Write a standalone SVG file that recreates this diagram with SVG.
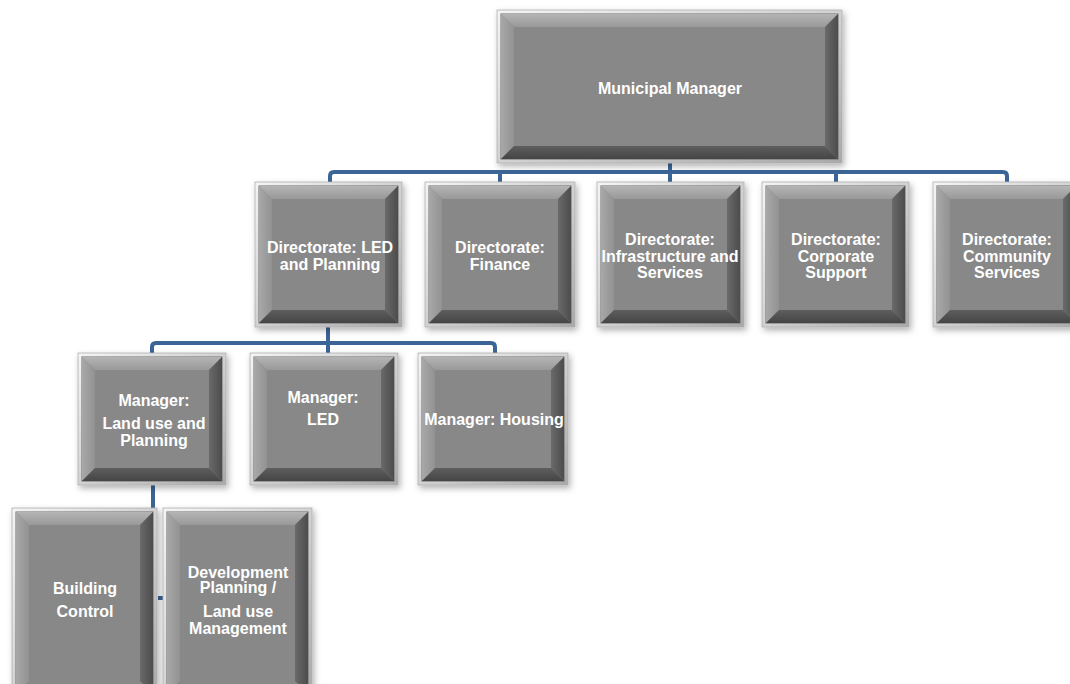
<svg xmlns="http://www.w3.org/2000/svg" width="1070" height="684" viewBox="0 0 1070 684">
<defs>
<linearGradient id="gFrame" x1="0" y1="0" x2="1" y2="1">
<stop offset="0" stop-color="#f4f4f4"/><stop offset="0.5" stop-color="#d2d2d2"/><stop offset="1" stop-color="#a9a9a9"/>
</linearGradient>
<linearGradient id="gTop" x1="0" y1="0" x2="0" y2="1">
<stop offset="0" stop-color="#b4b4b4"/><stop offset="1" stop-color="#999999"/>
</linearGradient>
<linearGradient id="gLeft" x1="0" y1="0" x2="1" y2="0">
<stop offset="0" stop-color="#a8a8a8"/><stop offset="1" stop-color="#929292"/>
</linearGradient>
<linearGradient id="gRight" x1="0" y1="0" x2="1" y2="0">
<stop offset="0" stop-color="#6a6a6a"/><stop offset="1" stop-color="#4c4c4c"/>
</linearGradient>
<linearGradient id="gBot" x1="0" y1="0" x2="0" y2="1">
<stop offset="0" stop-color="#5e5e5e"/><stop offset="1" stop-color="#454545"/>
</linearGradient>
<filter id="sh" x="-10%" y="-10%" width="125%" height="125%">
<feDropShadow dx="2" dy="3" stdDeviation="3" flood-color="#000" flood-opacity="0.3"/>
</filter>
</defs>
<style>
.frame{fill:url(#gFrame);stroke:#b0b0b0;stroke-width:0.8;filter:url(#sh)}
.face{fill:#888888;stroke:#6a6a6a;stroke-width:1}
.bt{fill:url(#gTop)}
.bl{fill:url(#gLeft)}
.br{fill:url(#gRight)}
.bb{fill:url(#gBot)}
.lbl{font-family:"Liberation Sans",Arial,sans-serif;font-weight:bold;font-size:16px;fill:#ffffff;text-anchor:middle}
.con{fill:none;stroke:#3b6597;stroke-width:4;stroke-linejoin:round}
</style>
<rect width="1070" height="684" fill="#ffffff"/>
<g id="connectors">
<path class="con" d="M330 182 V176 Q330 172 334 172 H1003 Q1007 172 1007 176 V182"/>
<path class="con" d="M500 172 V182 M670 163 V182 M836 172 V182"/>
<path class="con" d="M152 353 V347 Q152 343 156 343 H491 Q495 343 495 347 V353"/>
<path class="con" d="M328 327 V353"/>
<path class="con" d="M153 485 V508"/>
<path class="con" d="M158 598 H164"/>
</g>
<g id="municipal-manager">
<rect class="frame" x="497" y="10" width="345" height="153"/>
<rect class="face" x="501" y="14" width="337" height="145"/>
<path class="bt" d="M501 14 H838 L825 27 H514 Z"/>
<path class="bl" d="M501 14 L514 27 V146 L501 159 Z"/>
<path class="br" d="M838 14 V159 L825 146 V27 Z"/>
<path class="bb" d="M501 159 L514 146 H825 L838 159 Z"/>
<text class="lbl" x="670" y="94">Municipal Manager</text>
</g>
<g id="dir-led-planning">
<rect class="frame" x="255" y="182" width="147" height="145"/>
<rect class="face" x="259" y="186" width="139" height="137"/>
<path class="bt" d="M259 186 H398 L385 199 H272 Z"/>
<path class="bl" d="M259 186 L272 199 V310 L259 323 Z"/>
<path class="br" d="M398 186 V323 L385 310 V199 Z"/>
<path class="bb" d="M259 323 L272 310 H385 L398 323 Z"/>
<text class="lbl" x="330" y="253">Directorate: LED</text>
<text class="lbl" x="330" y="270">and Planning</text>
</g>
<g id="dir-finance">
<rect class="frame" x="425" y="182" width="150" height="145"/>
<rect class="face" x="429" y="186" width="142" height="137"/>
<path class="bt" d="M429 186 H571 L558 199 H442 Z"/>
<path class="bl" d="M429 186 L442 199 V310 L429 323 Z"/>
<path class="br" d="M571 186 V323 L558 310 V199 Z"/>
<path class="bb" d="M429 323 L442 310 H558 L571 323 Z"/>
<text class="lbl" x="500" y="253">Directorate:</text>
<text class="lbl" x="500" y="270">Finance</text>
</g>
<g id="dir-infrastructure">
<rect class="frame" x="597" y="182" width="147" height="145"/>
<rect class="face" x="601" y="186" width="139" height="137"/>
<path class="bt" d="M601 186 H740 L727 199 H614 Z"/>
<path class="bl" d="M601 186 L614 199 V310 L601 323 Z"/>
<path class="br" d="M740 186 V323 L727 310 V199 Z"/>
<path class="bb" d="M601 323 L614 310 H727 L740 323 Z"/>
<text class="lbl" x="670" y="245">Directorate:</text>
<text class="lbl" x="670" y="262">Infrastructure and</text>
<text class="lbl" x="670" y="278">Services</text>
</g>
<g id="dir-corporate">
<rect class="frame" x="762" y="182" width="147" height="145"/>
<rect class="face" x="766" y="186" width="139" height="137"/>
<path class="bt" d="M766 186 H905 L892 199 H779 Z"/>
<path class="bl" d="M766 186 L779 199 V310 L766 323 Z"/>
<path class="br" d="M905 186 V323 L892 310 V199 Z"/>
<path class="bb" d="M766 323 L779 310 H892 L905 323 Z"/>
<text class="lbl" x="836" y="245">Directorate:</text>
<text class="lbl" x="836" y="262">Corporate</text>
<text class="lbl" x="836" y="278">Support</text>
</g>
<g id="dir-community">
<rect class="frame" x="933" y="182" width="147" height="145"/>
<rect class="face" x="937" y="186" width="139" height="137"/>
<path class="bt" d="M937 186 H1076 L1063 199 H950 Z"/>
<path class="bl" d="M937 186 L950 199 V310 L937 323 Z"/>
<path class="br" d="M1076 186 V323 L1063 310 V199 Z"/>
<path class="bb" d="M937 323 L950 310 H1063 L1076 323 Z"/>
<text class="lbl" x="1007" y="245">Directorate:</text>
<text class="lbl" x="1007" y="262">Community</text>
<text class="lbl" x="1007" y="278">Services</text>
</g>
<g id="mgr-landuse">
<rect class="frame" x="78" y="353" width="148" height="132"/>
<rect class="face" x="82" y="357" width="140" height="124"/>
<path class="bt" d="M82 357 H222 L209 370 H95 Z"/>
<path class="bl" d="M82 357 L95 370 V468 L82 481 Z"/>
<path class="br" d="M222 357 V481 L209 468 V370 Z"/>
<path class="bb" d="M82 481 L95 468 H209 L222 481 Z"/>
<text class="lbl" x="154" y="406">Manager:</text>
<text class="lbl" x="154" y="429">Land use and</text>
<text class="lbl" x="154" y="446">Planning</text>
</g>
<g id="mgr-led">
<rect class="frame" x="250" y="353" width="148" height="132"/>
<rect class="face" x="254" y="357" width="140" height="124"/>
<path class="bt" d="M254 357 H394 L381 370 H267 Z"/>
<path class="bl" d="M254 357 L267 370 V468 L254 481 Z"/>
<path class="br" d="M394 357 V481 L381 468 V370 Z"/>
<path class="bb" d="M254 481 L267 468 H381 L394 481 Z"/>
<text class="lbl" x="323" y="403">Manager:</text>
<text class="lbl" x="323" y="425">LED</text>
</g>
<g id="mgr-housing">
<rect class="frame" x="418" y="353" width="150" height="132"/>
<rect class="face" x="422" y="357" width="142" height="124"/>
<path class="bt" d="M422 357 H564 L551 370 H435 Z"/>
<path class="bl" d="M422 357 L435 370 V468 L422 481 Z"/>
<path class="br" d="M564 357 V481 L551 468 V370 Z"/>
<path class="bb" d="M422 481 L435 468 H551 L564 481 Z"/>
<text class="lbl" x="494" y="425">Manager: Housing</text>
</g>
<g id="building-control">
<rect class="frame" x="12" y="508" width="145" height="190"/>
<rect class="face" x="16" y="512" width="137" height="182"/>
<path class="bt" d="M16 512 H153 L140 525 H29 Z"/>
<path class="bl" d="M16 512 L29 525 V681 L16 694 Z"/>
<path class="br" d="M153 512 V694 L140 681 V525 Z"/>
<text class="lbl" x="85" y="594">Building</text>
<text class="lbl" x="85" y="617">Control</text>
</g>
<g id="development-planning">
<rect class="frame" x="163" y="508" width="149" height="190"/>
<rect class="face" x="167" y="512" width="141" height="182"/>
<path class="bt" d="M167 512 H308 L295 525 H180 Z"/>
<path class="bl" d="M167 512 L180 525 V681 L167 694 Z"/>
<path class="br" d="M308 512 V694 L295 681 V525 Z"/>
<text class="lbl" x="238" y="578">Development</text>
<text class="lbl" x="238" y="593">Planning /</text>
<text class="lbl" x="238" y="617">Land use</text>
<text class="lbl" x="238" y="634">Management</text>
</g>
</svg>
